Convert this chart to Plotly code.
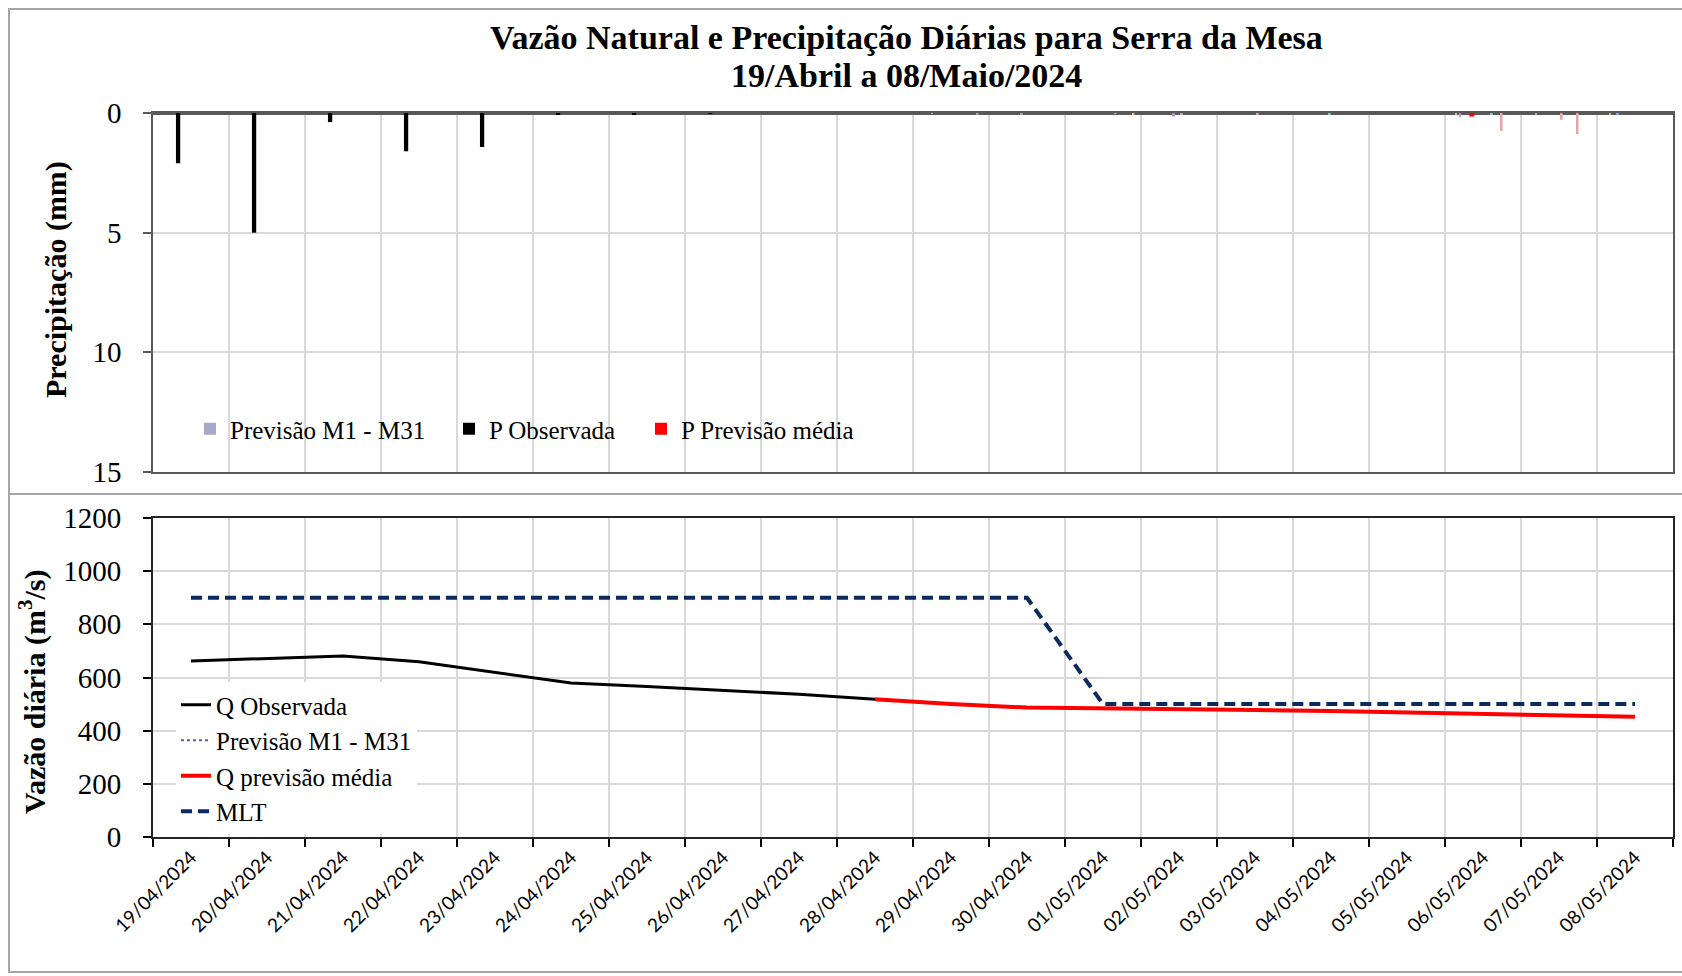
import plotly.graph_objects as go

W, H = 1682, 976

# Days of the period (category axis shared by both panels)
datas = [
    "19/04/2024", "20/04/2024", "21/04/2024", "22/04/2024", "23/04/2024",
    "24/04/2024", "25/04/2024", "26/04/2024", "27/04/2024", "28/04/2024",
    "29/04/2024", "30/04/2024", "01/05/2024", "02/05/2024", "03/05/2024",
    "04/05/2024", "05/05/2024", "06/05/2024", "07/05/2024", "08/05/2024",
]

# Observed precipitation (mm)
p_obs_datas = datas[:8]
p_observada = [2.1, 5.0, 0.38, 1.6, 1.42, 0.08, 0.08, 0.04]

# Mean forecast precipitation (mm)
p_media_datas = datas[10:]
p_prev_media = [0, 0, 0, 0, 0, 0, 0, 0.15, 0, 0]

# Ensemble members M1 - M31 with non-zero precipitation (mm)
membro_num = [29, 6, 13, 22, 31, 13, 17, 17, 15, 2, 4, 20, 25, 4, 17, 25, 3, 7]
membro_data = [
    "29/04/2024", "29/04/2024", "30/04/2024", "01/05/2024", "01/05/2024",
    "02/05/2024", "02/05/2024", "03/05/2024", "04/05/2024", "06/05/2024",
    "06/05/2024", "06/05/2024", "06/05/2024", "07/05/2024", "07/05/2024",
    "07/05/2024", "08/05/2024", "08/05/2024",
]
membro_valor = [0.06, 0.04, 0.05, 0.04, 0.05, 0.15, 0.05, 0.05, 0.05, 0.05,
                0.18, 0.05, 0.75, 0.05, 0.28, 0.88, 0.05, 0.05]

# Daily natural flow (m3/s)
q_obs_datas = datas[:10]
q_observada = [662, 671, 681, 659, 620, 579, 566, 552, 537, 518]
q_media_datas = datas[9:]
q_prev_media = [518, 500, 487, 485, 482, 478, 474, 469, 464, 458, 452]
mlt = [900, 900, 900, 900, 900, 900, 900, 900, 900, 900, 900, 900,
       500, 500, 500, 500, 500, 500, 500, 500]

# ---- styling ----
SERIF = "Liberation Serif"
SANS = "Lato"
cores_membros = [
    "#e8a7a9", "#e8a7a9", "#c4c27e", "#a99cc9", "#9cc8a0", "#f2b27c", "#86a2d6",
    "#b7d98b", "#c9a0d8", "#f5c98a", "#8fcbd9", "#d9b3a0", "#a99cc9", "#a3c4e0",
    "#84c6d6", "#e0b0c8", "#e6a3aa", "#bfbfbf", "#c9c97f", "#86cbd9", "#b3a2c7",
    "#f0b27a", "#9bbb59", "#8db3e2", "#e6a3a8", "#d99694", "#c3d69b", "#b2a1c7",
    "#a9a7cc", "#93cddd", "#fac090",
]
larg_membro = 0.026
off_membros = [-0.38 + (n - 1) * larg_membro - larg_membro / 2 for n in membro_num]


def px_x(v):
    return v / W


def px_y(v):
    return 1 - v / H


fig = go.Figure()

# ---- precipitation panel ----
fig.add_trace(go.Bar(
    x=membro_data, y=membro_valor, name="Previsão M1 - M31",
    xaxis="x", yaxis="y", legend="legend",
    width=[larg_membro] * len(membro_valor), offset=off_membros,
    marker=dict(color=[cores_membros[n - 1] for n in membro_num], line_width=0),
))
fig.add_trace(go.Bar(
    x=p_obs_datas, y=p_observada, name="P Observada",
    xaxis="x", yaxis="y", legend="legend2",
    width=0.056, offset=-0.198,
    marker=dict(color="#000000", line_width=0),
))
fig.add_trace(go.Bar(
    x=p_media_datas, y=p_prev_media, name="P Previsão média",
    xaxis="x", yaxis="y", legend="legend3",
    width=0.066, offset=-0.18,
    marker=dict(color="#ff0000", line_width=0),
))

# ---- flow panel ----
fig.add_trace(go.Scatter(
    x=q_obs_datas, y=q_observada, name="Q Observada", mode="lines",
    xaxis="x2", yaxis="y2", legend="legend4", legendgroup="a",
    line=dict(color="#000000", width=3),
))
fig.add_trace(go.Scatter(
    x=[None], y=[None], name="Previsão M1 - M31", mode="lines",
    xaxis="x2", yaxis="y2", legend="legend4", legendgroup="b",
    line=dict(color="#5c5c9e", width=2, dash="dot"),
))
fig.add_trace(go.Scatter(
    x=q_media_datas, y=q_prev_media, name="Q previsão média", mode="lines",
    xaxis="x2", yaxis="y2", legend="legend4", legendgroup="c",
    line=dict(color="#ff0000", width=4),
))
fig.add_trace(go.Scatter(
    x=datas, y=mlt, name="MLT", mode="lines",
    xaxis="x2", yaxis="y2", legend="legend4", legendgroup="d",
    line=dict(color="#0c2a5e", width=4, dash="11px,6px"),
))

x_dom = [px_x(153), px_x(1673)]
cat_axis = dict(
    type="category", categoryorder="array", categoryarray=datas,
    range=[-0.5, len(datas) - 0.5], domain=x_dom, automargin=False,
    tickson="boundaries", showgrid=True, gridcolor="#d9d9d9", gridwidth=1.5,
    zeroline=False,
)

tick_font = dict(family=SERIF, size=29, color="#000000")
leg_font = dict(family=SERIF, size=25, color="#000000")

fig.update_layout(
    width=W, height=H,
    margin=dict(l=0, r=0, t=0, b=0, autoexpand=False),
    paper_bgcolor="#ffffff", plot_bgcolor="#ffffff",
    barmode="overlay",
    xaxis=dict(**cat_axis, anchor="y", showticklabels=False, ticks="",
               showline=True, linecolor="#595959", linewidth=1.5, mirror=True),
    yaxis=dict(domain=[px_y(472), px_y(113)], anchor="x", range=[15, 0],
               automargin=False,
               tickvals=[0, 5, 10, 15], ticks="outside", ticklen=8,
               tickcolor="#595959", tickwidth=1.5, tickfont=tick_font,
               ticklabelstandoff=16,
               showline=True, linecolor="#595959", linewidth=1.5, mirror=True,
               showgrid=True, gridcolor="#d9d9d9", gridwidth=1.5,
               zeroline=True, zerolinecolor="#595959", zerolinewidth=3),
    xaxis2=dict(**cat_axis, anchor="y2", ticks="outside", ticklen=8,
                tickcolor="#000000", tickwidth=1.5, tickangle=-45,
                tickfont=dict(family=SANS, size=19, color="#000000"),
                showline=True, linecolor="#262626", linewidth=2, mirror=True),
    yaxis2=dict(domain=[px_y(837), px_y(518)], anchor="x2", range=[0, 1200],
                automargin=False,
                dtick=200, ticks="outside", ticklen=8, tickcolor="#000000",
                tickwidth=1.5, tickfont=tick_font, ticklabelstandoff=16,
                showline=True, linecolor="#262626", linewidth=2, mirror=True,
                showgrid=True, gridcolor="#d9d9d9", gridwidth=1.5,
                zeroline=False),
    legend=dict(x=px_x(190), y=px_y(429), xanchor="left", yanchor="middle",
                orientation="h", font=leg_font, bgcolor="rgba(0,0,0,0)"),
    legend2=dict(x=px_x(449), y=px_y(429), xanchor="left", yanchor="middle",
                 orientation="h", font=leg_font, bgcolor="rgba(0,0,0,0)"),
    legend3=dict(x=px_x(641), y=px_y(429), xanchor="left", yanchor="middle",
                 orientation="h", font=leg_font, bgcolor="rgba(0,0,0,0)"),
    legend4=dict(x=px_x(176), y=px_y(682), xanchor="left", yanchor="top",
                 orientation="v", font=leg_font, bgcolor="#ffffff",
                 tracegroupgap=3, traceorder="normal"),
    showlegend=True,
)

# Panel frames
fig.add_shape(type="rect", xref="paper", yref="paper",
              x0=px_x(9), x1=px_x(1690), y0=px_y(972), y1=px_y(9),
              line=dict(color="#a6a6a6", width=2), layer="below")
fig.add_shape(type="line", xref="paper", yref="paper",
              x0=px_x(9), x1=1, y0=px_y(494), y1=px_y(494),
              line=dict(color="#a6a6a6", width=2), layer="below")

title_font = dict(family=SERIF, size=34, color="#000000")
fig.add_annotation(text="<b>Vazão Natural e Precipitação Diárias para Serra da Mesa</b>",
                   xref="paper", yref="paper", x=px_x(906), y=px_y(38),
                   xanchor="center", yanchor="middle", showarrow=False, font=title_font)
fig.add_annotation(text="<b>19/Abril a 08/Maio/2024</b>",
                   xref="paper", yref="paper", x=px_x(906), y=px_y(75),
                   xanchor="center", yanchor="middle", showarrow=False, font=title_font)

ytitle_font = dict(family=SERIF, size=30, color="#000000")
fig.add_annotation(text="<b>Precipitação (mm)</b>", textangle=-90,
                   xref="paper", yref="paper", x=px_x(56), y=px_y(280),
                   xanchor="center", yanchor="middle", showarrow=False, font=ytitle_font)
fig.add_annotation(text="<b>Vazão diária (m<sup>3</sup>/s)</b>", textangle=-90,
                   xref="paper", yref="paper", x=px_x(32), y=px_y(692),
                   xanchor="center", yanchor="middle", showarrow=False, font=ytitle_font)

fig.write_html("out.html")
